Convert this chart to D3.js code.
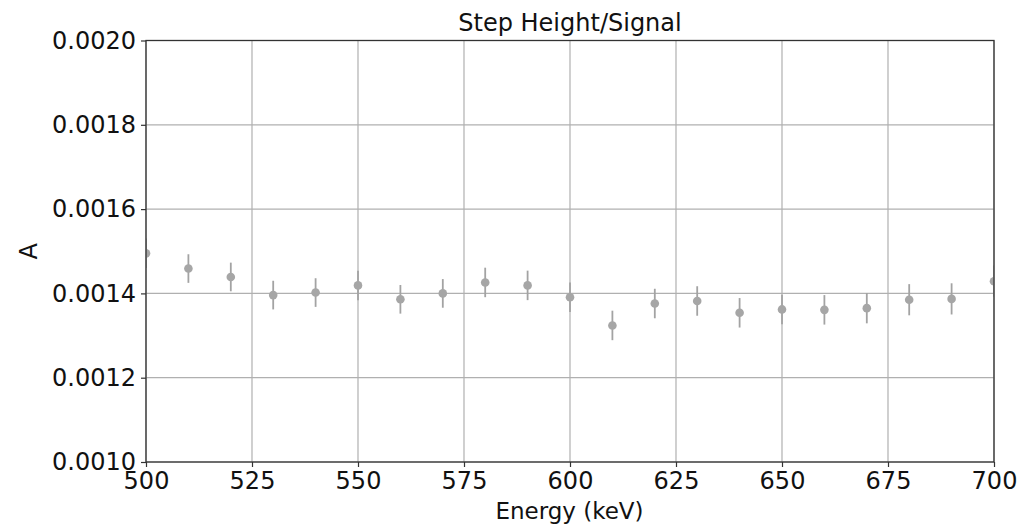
<!DOCTYPE html>
<html>
<head>
<meta charset="utf-8">
<script src="https://cdn.jsdelivr.net/npm/d3@7"></script>
<style>
  html, body { margin: 0; padding: 0; background: #fff; }
  svg { display: block; font-family: "DejaVu Sans", sans-serif; }
</style>
</head>
<body>
<svg id="chart" width="1033" height="527"></svg>
<script>
const energies = [500, 510, 520, 530, 540, 550, 560, 570, 580, 590, 600, 610, 620, 630, 640, 650, 660, 670, 680, 690, 700];
const values = [0.001495, 0.001459, 0.001439, 0.001396, 0.001402, 0.001419, 0.001386, 0.001400, 0.001426, 0.001419, 0.001391, 0.001324, 0.001376, 0.001382, 0.001354, 0.001362, 0.001361, 0.001365, 0.001385, 0.001387, 0.001429];
const errors = [0.000035, 0.000034, 0.000034, 0.000034, 0.000034, 0.000035, 0.000034, 0.000034, 0.000035, 0.000035, 0.000035, 0.000035, 0.000035, 0.000035, 0.000035, 0.000035, 0.000035, 0.000036, 0.000037, 0.000037, 0.000037];
const xTicks = [500, 525, 550, 575, 600, 625, 650, 675, 700];
const yTicks = [0.0010, 0.0012, 0.0014, 0.0016, 0.0018, 0.0020];
const titleText = "Step Height/Signal";
const xLabelText = "Energy (keV)";
const yLabelText = "A";

(function () {
const svg = d3.select("#chart");
const pL = 146, pR = 994, pT = 40.5, pB = 462;

const x = d3.scaleLinear().domain([500, 700]).range([pL, pR]);
const y = d3.scaleLinear().domain([0.0010, 0.0020]).range([pB, pT]);

svg.append("defs").append("clipPath").attr("id", "clip")
  .append("rect").attr("x", pL).attr("y", pT).attr("width", pR - pL).attr("height", pB - pT);

const grid = svg.append("g");
grid.selectAll("line.gx").data(xTicks).enter().append("line")
  .attr("x1", d => x(d)).attr("x2", d => x(d)).attr("y1", pT).attr("y2", pB)
  .attr("stroke", "#b0b0b0").attr("stroke-width", 1.2);
grid.selectAll("line.gy").data(yTicks).enter().append("line")
  .attr("x1", pL).attr("x2", pR).attr("y1", d => y(d)).attr("y2", d => y(d))
  .attr("stroke", "#b0b0b0").attr("stroke-width", 1.2);

const data = energies.map((e, i) => ({e, v: values[i], err: errors[i]}));
const plot = svg.append("g").attr("clip-path", "url(#clip)");
plot.selectAll("line.err").data(data).enter().append("line")
  .attr("x1", d => x(d.e)).attr("x2", d => x(d.e))
  .attr("y1", d => y(d.v - d.err)).attr("y2", d => y(d.v + d.err))
  .attr("stroke", "#a3a3a3").attr("stroke-width", 1.8);
plot.selectAll("circle").data(data).enter().append("circle")
  .attr("cx", d => x(d.e)).attr("cy", d => y(d.v)).attr("r", 4.3)
  .attr("fill", "#a6a6a6");

const xAxis = svg.append("g").attr("transform", `translate(0,${pB})`)
  .call(d3.axisBottom(x).tickValues(xTicks).tickFormat(d3.format("d")).tickSize(5).tickPadding(5));
const yAxis = svg.append("g").attr("transform", `translate(${pL},0)`)
  .call(d3.axisLeft(y).tickValues(yTicks).tickFormat(d3.format(".4f")).tickSize(5).tickPadding(5));
[xAxis, yAxis].forEach(a => {
  a.select(".domain").remove();
  a.selectAll(".tick line").attr("stroke", "#333").attr("stroke-width", 1.2);
  a.selectAll(".tick text").attr("fill", "#111").style("font-size", "24px").style("font-family", "DejaVu Sans");
});

svg.append("rect").attr("x", pL).attr("y", pT).attr("width", pR - pL).attr("height", pB - pT)
  .attr("fill", "none").attr("stroke", "#333").attr("stroke-width", 1.3);

svg.append("text").attr("x", (pL + pR) / 2).attr("y", 31).attr("text-anchor", "middle")
  .style("font-size", "24px").attr("fill", "#111").text(titleText);
svg.append("text").attr("x", (pL + pR) / 2 - 0.5).attr("y", 519).attr("text-anchor", "middle")
  .style("font-size", "23px").attr("fill", "#111").text(xLabelText);
svg.append("text").attr("transform", `translate(37,${(pT + pB) / 2}) rotate(-90)`).attr("text-anchor", "middle")
  .style("font-size", "24px").attr("fill", "#111").text(yLabelText);
})();
</script>
</body>
</html>
